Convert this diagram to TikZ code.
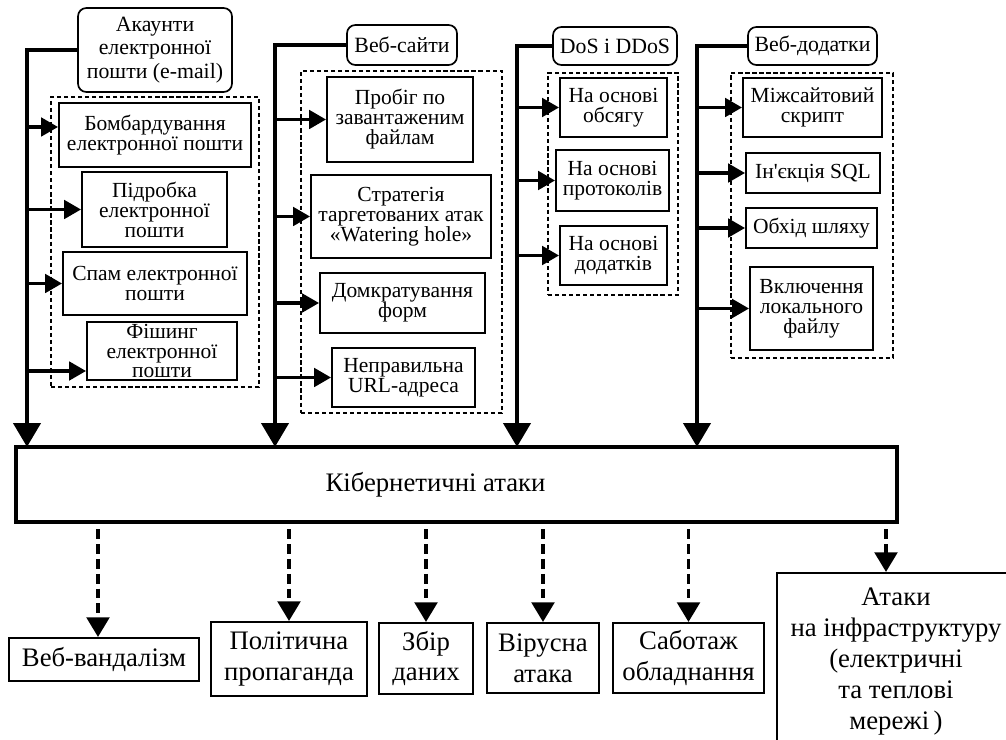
\documentclass[tikz,border=0pt]{standalone}
\usepackage{fontspec}
\setmainfont{Liberation Serif}[Ligatures=TeXOff]
\usetikzlibrary{arrows.meta}

\tikzset{
  group/.style={draw, line width=1.2pt, rounded corners=6pt, align=center, inner sep=0pt,
    font=\fontsize{15.5}{14.5}\selectfont},
  item/.style={draw, line width=1.3pt, align=center, inner sep=0pt,
    font=\fontsize{15.3}{14.2}\selectfont},
  frame/.style={draw, line width=0.9pt, dash pattern=on 3pt off 2pt, inner sep=0pt},
  core/.style={draw, line width=2.6pt, inner sep=0pt, font=\fontsize{19}{22}\selectfont},
  result/.style={draw, line width=1.4pt, align=center, inner sep=0pt,
    font=\fontsize{19}{22}\selectfont},
  trunk/.style={line width=3.4pt, -{Triangle[length=17pt,width=19pt]}},
  branch/.style={line width=2.6pt, -{Triangle[length=12pt,width=13pt]}},
  goal/.style={line width=2.8pt, dash pattern=on 7pt off 3.5pt, shorten <=4pt,
    -{Triangle[length=14pt,width=16pt]}},
}

\begin{document}
\begin{tikzpicture}[x=0.025cm,y=-0.025cm]
    \useasboundingbox (0,0) rectangle (1006,740);

    % dashed groups
    \node[frame, minimum width=5.2cm, minimum height=7.25cm] (d1) at (155,242) {};
    \node[frame, minimum width=5.025cm, minimum height=8.55cm] (d2) at (401.5,242) {};
    \node[frame, minimum width=3.25cm, minimum height=5.55cm] (d3) at (613,184) {};
    \node[frame, minimum width=4.05cm, minimum height=7.125cm] (d4) at (812,215.5) {};

    % sources
    \node[group, minimum width=3.85cm, minimum height=2.1cm, font=\fontsize{15.5}{16.5}\selectfont] (h1) at (155,50) {Акаунти\\електронної\\пошти (e-mail)};
    \node[group, minimum width=2.75cm, minimum height=1cm] (h2) at (402,45) {Веб-сайти};
    \node[group, minimum width=3.1cm, minimum height=0.95cm] (h3) at (615,46) {DoS і DDoS};
    \node[group, minimum width=3.225cm, minimum height=0.95cm] (h4) at (812.5,46) {Веб-додатки};

    \node[item, minimum width=4.8cm, minimum height=1.6cm] (a11) at (155,135) {Бомбардування\\електронної пошти};
    \node[item, minimum width=3.625cm, minimum height=1.875cm] (a12) at (154.5,209.5) {Підробка\\електронної\\пошти};
    \node[item, minimum width=4.6cm, minimum height=1.575cm] (a13) at (155,283.5) {Спам електронної\\пошти};
    \node[item, minimum width=3.75cm, minimum height=1.45cm] (a14) at (162,351) {Фішинг\\електронної\\пошти};

    \node[item, minimum width=3.65cm, minimum height=2.125cm] (b21) at (400,119.5) {Пробіг по\\завантаженим\\файлам};
    \node[item, minimum width=4.5cm, minimum height=2.075cm] (b22) at (401,216.5) {Стратегія\\таргетованих атак\\«Watering hole»};
    \node[item, minimum width=4.125cm, minimum height=1.5cm] (b23) at (402.5,303) {Домкратування\\форм};
    \node[item, minimum width=3.575cm, minimum height=1.475cm] (b24) at (403.5,377.5) {Неправильна\\URL-адреса};

    \node[item, minimum width=2.675cm, minimum height=1.475cm] (c31) at (613.5,107.5) {На основі\\обсягу};
    \node[item, minimum width=2.825cm, minimum height=1.525cm] (c32) at (612.5,180.5) {На основі\\протоколів};
    \node[item, minimum width=2.675cm, minimum height=1.475cm] (c33) at (613.5,255.5) {На основі\\додатків};

    \node[item, minimum width=3.475cm, minimum height=1.475cm] (e41) at (812.5,107.5) {Міжсайтовий\\скрипт};
    \node[item, minimum width=3.35cm, minimum height=1cm] (e42) at (813,173) {Ін'єкція SQL};
    \node[item, minimum width=3.275cm, minimum height=1cm] (e43) at (811.5,228) {Обхід шляху};
    \node[item, minimum width=3.075cm, minimum height=2.075cm] (e44) at (811.5,308.5) {Включення\\локального\\файлу};

    % centre
    \node[core, minimum width=22.025cm, minimum height=1.875cm] (main) at (456.5,484.5) {Кібернетичні атаки\rule{1.05cm}{0pt}};

    % outcomes
    \node[result, minimum width=4.75cm, minimum height=1.075cm] (r1) at (104,659.5) {Веб-вандалізм};
    \node[result, minimum width=3.9cm, minimum height=1.85cm] (r2) at (289,659) {Політична\\пропаганда};
    \node[result, minimum width=2.35cm, minimum height=1.775cm] (r3) at (426,658.5) {Збір\\даних};
    \node[result, minimum width=2.8cm, minimum height=1.75cm] (r4) at (543,658) {Вірусна\\атака};
    \node[result, minimum width=3.775cm, minimum height=1.75cm] (r5) at (688.5,658) {Саботаж\\обладнання};
    \node[result, minimum width=5.95cm, minimum height=4.425cm] (r6) at (896,661.5) {Атаки\\на інфраструктуру\\(електричні\\та теплові\\мережі\,)};

    \coordinate (k1) at (27,447);
    \coordinate (k2) at (275,447);
    \coordinate (k3) at (517,447);
    \coordinate (k4) at (697,447);

    \draw[trunk] (h1.west) -| (k1);
    \draw[trunk] (h2.west) -| (k2);
    \draw[trunk] (h3.west) -| (k3);
    \draw[trunk] (h4.west) -| (k4);

    \draw[branch] ([yshift=0.2cm]a11.west -| k1) -- ([yshift=0.2cm]a11.west);
    \draw[branch] (a12.west -| k1) -- (a12.west);
    \draw[branch] (a13.west -| k1) -- (a13.west);
    \draw[branch] ([yshift=-0.5cm]a14.west -| k1) -- ([yshift=-0.5cm]a14.west);

    \draw[branch] (b21.west -| k2) -- (b21.west);
    \draw[branch] (b22.west -| k2) -- (b22.west);
    \draw[branch] (b23.west -| k2) -- (b23.west);
    \draw[branch] (b24.west -| k2) -- (b24.west);

    \draw[branch] (c31.west -| k3) -- (c31.west);
    \draw[branch] (c32.west -| k3) -- (c32.west);
    \draw[branch] (c33.west -| k3) -- (c33.west);

    \draw[branch] (e41.west -| k4) -- (e41.west);
    \draw[branch] (e42.west -| k4) -- (e42.west);
    \draw[branch] (e43.west -| k4) -- (e43.west);
    \draw[branch] (e44.west -| k4) -- (e44.west);

    \draw[goal] ([xshift=-0.15cm]r1.north |- main.south) -- ([xshift=-0.15cm]r1.north);
    \draw[goal] (r2.north |- main.south) -- (r2.north);
    \draw[goal] (r3.north |- main.south) -- (r3.north);
    \draw[goal] (r4.north |- main.south) -- (r4.north);
    \draw[goal] (r5.north |- main.south) -- (r5.north);
    \draw[goal] ([xshift=-0.25cm]r6.north |- main.south) -- ([xshift=-0.25cm]r6.north);
\end{tikzpicture}
\end{document}
